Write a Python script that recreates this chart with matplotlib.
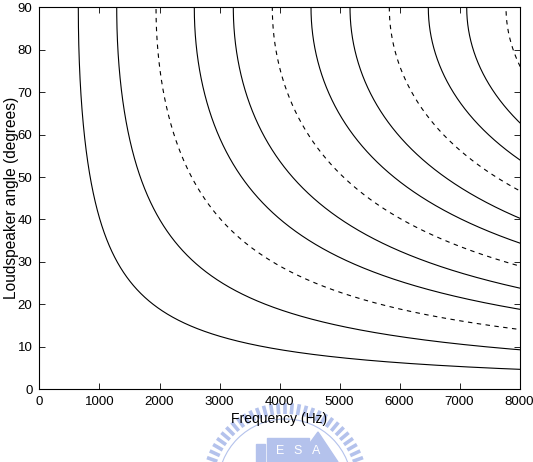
import numpy as np
import matplotlib
matplotlib.use("Agg")
import matplotlib.pyplot as plt
from matplotlib.patches import Rectangle, Polygon, Circle

plt.rcParams["font.family"] = ["Liberation Sans", "DejaVu Sans"]

# frequency (Hz) where each curve meets 90 degrees
CURVE_F90 = [647, 1287, 1942, 2580, 3230, 3880, 4525, 5175, 5830, 6480, 7120, 7775]
CURVE_DASHED = [False, False, True, False, False, True,
                False, False, True, False, False, True]

X_TICKS = [0, 1000, 2000, 3000, 4000, 5000, 6000, 7000, 8000]
Y_TICKS = [0, 10, 20, 30, 40, 50, 60, 70, 80, 90]

WM_BLUE = "#b4c2ec"


fig = plt.figure(figsize=(5.33, 4.62), dpi=100)

# faint logo watermark under the x label (pixel coordinates)
bg = fig.add_axes([0, 0, 1, 1], zorder=0)
bg.set_xlim(0, 533)
bg.set_ylim(462, 0)
bg.axis("off")
cx, cy = 285, 486
for a in np.radians(np.arange(180, 361, 5)):
    bg.plot(
        [cx + 72 * np.cos(a), cx + 83 * np.cos(a)],
        [cy + 72 * np.sin(a), cy + 83 * np.sin(a)],
        color=WM_BLUE, linewidth=2.6, solid_capstyle="butt"
    )
bg.add_patch(Circle((cx, cy), 67, fill=False, edgecolor=WM_BLUE, linewidth=0.8))
bg.add_patch(Rectangle((256, 444), 9, 18, color=WM_BLUE))
bg.add_patch(Rectangle((267, 438), 42, 24, color=WM_BLUE))
bg.add_patch(Polygon([[296, 462], [318, 432], [338, 462]], color=WM_BLUE))
for tx, t in zip([280, 298, 316], ["E", "S", "A"]):
    bg.text(tx, 451, t, color="white", fontsize=9, ha="center", va="center")

ax = fig.add_axes([0.0741, 0.158, 0.9006, 0.8258], zorder=1)

# angle grid, curve follows f = f90 / sin(angle)
angle = np.linspace(0.5, 90, 2000)

for f90, dashed in zip(CURVE_F90, CURVE_DASHED):
    freq = f90 / np.sin(np.radians(angle))
    ax.plot(
        freq,
        angle,
        color="black",
        linewidth=0.8,
        linestyle=(0, (4, 4)) if dashed else "-"
    )

ax.set_xlim(0, 8000)
ax.set_ylim(0, 90)
ax.set_xticks(X_TICKS)
ax.set_yticks(Y_TICKS)

ax.tick_params(
    direction="in",
    top=True,
    right=True,
    length=4,
    width=0.6,
    labelsize=9.5,
    pad=5
)

for s in ax.spines.values():
    s.set_linewidth(0.8)

ax.set_xlabel("Frequency (Hz)", fontsize=10, labelpad=3)
ax.set_ylabel("Loudspeaker angle (degrees)", fontsize=11.2, labelpad=-1)

fig.savefig("out.png", dpi=100)
